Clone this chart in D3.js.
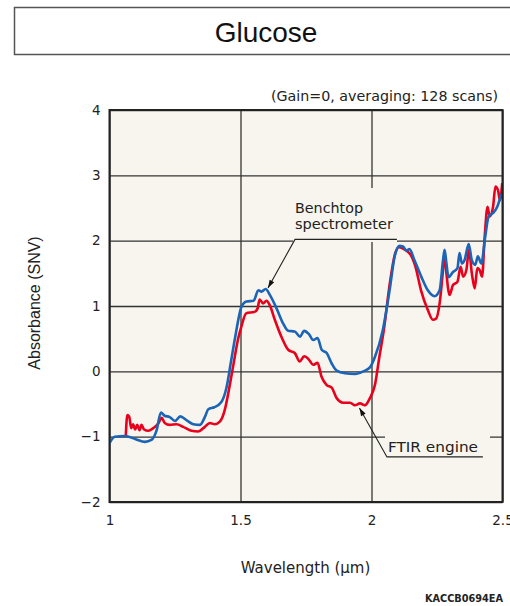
<!DOCTYPE html>
<html>
<head>
<meta charset="utf-8">
<script src="https://cdn.jsdelivr.net/npm/d3@7"></script>
<style>
  body { margin: 0; background: #fff; }
  svg { display: block; }
</style>
</head>
<body>
<div id="chart"></div>
<script>
// Benchtop spectrometer (blue)
var benchWl = [1.0, 1.02, 1.06, 1.10, 1.135, 1.16, 1.18, 1.196, 1.21, 1.23,
  1.25, 1.27, 1.295, 1.32, 1.345, 1.365, 1.377, 1.40, 1.427, 1.447,
  1.463, 1.48, 1.504, 1.523, 1.55, 1.568, 1.58, 1.596, 1.612, 1.638,
  1.663, 1.682, 1.707, 1.727, 1.743, 1.761, 1.778, 1.794, 1.81, 1.829,
  1.848, 1.867, 1.899, 1.937, 1.969, 1.994, 2.013, 2.043, 2.069, 2.088,
  2.107, 2.12, 2.133, 2.145, 2.164, 2.19, 2.215, 2.241, 2.26, 2.273,
  2.279, 2.286, 2.294, 2.311, 2.328, 2.336, 2.345, 2.355, 2.371, 2.383,
  2.396, 2.406, 2.419, 2.434, 2.447, 2.463, 2.48, 2.496];
var benchAbs = [-1.10, -1.0, -0.99, -1.04, -1.08, -1.05, -0.90, -0.63, -0.68, -0.70,
  -0.76, -0.69, -0.75, -0.81, -0.82, -0.69, -0.58, -0.55, -0.47, -0.24,
  0.13, 0.53, 0.99, 1.07, 1.08, 1.24, 1.22, 1.26, 1.17, 0.96,
  0.73, 0.62, 0.61, 0.53, 0.62, 0.57, 0.48, 0.51, 0.33, 0.28,
  0.12, 0.01, -0.03, -0.04, 0.0, 0.06, 0.22, 0.63, 1.24, 1.75,
  1.92, 1.91, 1.85, 1.87, 1.70, 1.45, 1.24, 1.15, 1.24, 1.70,
  1.86, 1.65, 1.44, 1.52, 1.58, 1.81, 1.65, 1.70, 1.95, 1.70,
  1.63, 1.76, 1.65, 2.06, 2.37, 2.42, 2.52, 2.72];

// FTIR engine (red)
var ftirWl = [1.062, 1.068, 1.075, 1.083, 1.09, 1.098, 1.106, 1.115, 1.122, 1.132,
  1.148, 1.167, 1.186, 1.199, 1.211, 1.23, 1.256, 1.281, 1.313, 1.338,
  1.364, 1.383, 1.402, 1.421, 1.44, 1.455, 1.472, 1.491, 1.503, 1.522,
  1.554, 1.565, 1.573, 1.586, 1.599, 1.612, 1.631, 1.656, 1.682, 1.707,
  1.726, 1.743, 1.761, 1.777, 1.794, 1.809, 1.829, 1.848, 1.867, 1.892,
  1.918, 1.937, 1.956, 1.975, 1.994, 2.013, 2.03, 2.047, 2.07, 2.09,
  2.105, 2.12, 2.135, 2.15, 2.168, 2.189, 2.215, 2.234, 2.247, 2.26,
  2.273, 2.279, 2.286, 2.298, 2.311, 2.328, 2.34, 2.35, 2.362, 2.372,
  2.383, 2.394, 2.404, 2.413, 2.422, 2.432, 2.443, 2.451, 2.464, 2.473,
  2.483, 2.49, 2.499];
var ftirAbs = [-1.0, -0.67, -0.69, -0.87, -0.81, -0.89, -0.82, -0.90, -0.82, -0.89,
  -0.91, -0.87, -0.80, -0.71, -0.79, -0.82, -0.81, -0.85, -0.91, -0.92,
  -0.85, -0.79, -0.81, -0.77, -0.59, -0.30, 0.08, 0.50, 0.68, 0.89,
  0.91, 0.96, 1.10, 1.04, 1.08, 1.01, 0.79, 0.53, 0.33, 0.28,
  0.15, 0.23, 0.18, 0.10, 0.13, -0.08, -0.21, -0.25, -0.41, -0.48,
  -0.48, -0.52, -0.49, -0.52, -0.41, -0.21, 0.22, 0.63, 1.35, 1.80,
  1.90, 1.88, 1.84, 1.78, 1.60, 1.24, 0.94, 0.79, 0.81, 1.04,
  1.55, 1.81, 1.50, 1.17, 1.32, 1.37, 1.60, 1.45, 1.55, 1.86,
  1.50, 1.27, 1.58, 1.55, 1.45, 2.06, 2.52, 2.37, 2.52, 2.83,
  2.77, 2.62, 2.88];

// Ticks
var xTicks = [1, 1.5, 2, 2.5];
var xTickLabels = ["1", "1.5", "2", "2.5"];
var yTicks = [-2, -1, 0, 1, 2, 3, 4];

var width = 510,
    height = 606;
var plotLeft = 109.5, plotRight = 502.5, plotTop = 110, plotBottom = 502;

var svg = d3.select("#chart")
  .append("svg")
  .attr("width", width)
  .attr("height", height);

// Title box
svg.append("rect")
  .attr("x", 14.5).attr("y", 7.5)
  .attr("width", 520).attr("height", 47)
  .attr("fill", "#fff")
  .attr("stroke", "#555")
  .attr("stroke-width", 1.5);
svg.append("text")
  .attr("x", 266).attr("y", 41.5)
  .attr("text-anchor", "middle")
  .style("font-family", "'Liberation Sans', Arial, sans-serif")
  .style("font-size", "28px")
  .attr("fill", "#111")
  .text("Glucose");

// Scales
var x = d3.scaleLinear().domain([1, 2.5]).range([plotLeft, plotRight]);
var y = d3.scaleLinear().domain([-2, 4]).range([plotBottom, plotTop]);

// Plot background
svg.append("rect")
  .attr("x", plotLeft).attr("y", plotTop)
  .attr("width", plotRight - plotLeft).attr("height", plotBottom - plotTop)
  .attr("fill", "#f7f5ee");

// Axes with grid
var xAxis = svg.append("g")
  .attr("transform", "translate(0," + plotBottom + ")")
  .call(d3.axisBottom(x).tickValues(xTicks)
    .tickFormat(function(d, i) { return xTickLabels[i]; })
    .tickSize(-(plotBottom - plotTop)).tickSizeOuter(0).tickPadding(13));
var yAxis = svg.append("g")
  .attr("transform", "translate(" + plotLeft + ",0)")
  .call(d3.axisLeft(y).tickValues(yTicks)
    .tickFormat(d3.format("d"))
    .tickSize(-(plotRight - plotLeft)).tickSizeOuter(0).tickPadding(9));
[xAxis, yAxis].forEach(function(a) {
  a.select(".domain").remove();
  a.selectAll("line").attr("stroke", "#333").attr("stroke-width", 1.3);
  a.selectAll("text")
    .style("font-family", "'DejaVu Sans', Verdana, sans-serif")
    .style("font-size", "13.5px")
    .attr("fill", "#222");
});

// label backgrounds hide gridlines
svg.append("rect")
  .attr("x", 293).attr("y", 188).attr("width", 104).attr("height", 54)
  .attr("fill", "#f7f5ee");
svg.append("rect")
  .attr("x", 385).attr("y", 430).attr("width", 105).attr("height", 29)
  .attr("fill", "#f7f5ee");

// Curves
svg.append("clipPath").attr("id", "clip")
  .append("rect")
  .attr("x", plotLeft).attr("y", plotTop)
  .attr("width", plotRight - plotLeft).attr("height", plotBottom - plotTop);

var line = d3.line()
  .x(function(d) { return x(d[0]); })
  .y(function(d) { return y(d[1]); })
  .curve(d3.curveMonotoneX);

var plot = svg.append("g").attr("clip-path", "url(#clip)");
plot.append("path")
  .datum(d3.zip(ftirWl, ftirAbs))
  .attr("d", line)
  .attr("fill", "none")
  .attr("stroke", "#e8001c")
  .attr("stroke-width", 2.6)
  .attr("stroke-linejoin", "round");
plot.append("path")
  .datum(d3.zip(benchWl, benchAbs))
  .attr("d", line)
  .attr("fill", "none")
  .attr("stroke", "#1b64b6")
  .attr("stroke-width", 2.6)
  .attr("stroke-linejoin", "round");

// Annotations
function annotate(tip, elbow, endX, lines, textX, textY, lineH, textLen) {
  var tx = x(tip[0]), ty = y(tip[1]);
  var ex = x(elbow[0]), ey = y(elbow[1]);
  svg.append("path")
    .attr("d", "M" + x(endX) + "," + ey + "L" + ex + "," + ey + "L" + tx + "," + ty)
    .attr("fill", "none")
    .attr("stroke", "#222")
    .attr("stroke-width", 1.1);
  var ang = Math.atan2(ey - ty, ex - tx);
  var L = 8, W = 2.6;
  var bx = tx + L * Math.cos(ang), by = ty + L * Math.sin(ang);
  svg.append("path")
    .attr("d", "M" + tx + "," + ty +
      "L" + (bx - W * Math.sin(ang)) + "," + (by + W * Math.cos(ang)) +
      "L" + (bx + W * Math.sin(ang)) + "," + (by - W * Math.cos(ang)) + "Z")
    .attr("fill", "#111");
  lines.forEach(function(t, i) {
    var el = svg.append("text")
      .attr("x", textX).attr("y", textY + i * lineH)
      .style("font-family", "'DejaVu Sans', Verdana, sans-serif")
      .style("font-size", "14px")
      .attr("fill", "#222")
      .text(t);
    if (textLen) el.attr("textLength", textLen[i]).attr("lengthAdjust", "spacingAndGlyphs");
  });
}
annotate([1.605, 1.275], [1.708, 2.02], 2.097, ["Benchtop", "spectrometer"], 295, 213, 16, [68, 98]);
annotate([1.954, -0.56], [2.059, -1.31], 2.425, ["FTIR engine"], 388, 451.5, 0, [90]);

// Frame
svg.append("rect")
  .attr("x", plotLeft).attr("y", plotTop)
  .attr("width", plotRight - plotLeft).attr("height", plotBottom - plotTop)
  .attr("fill", "none")
  .attr("stroke", "#222")
  .attr("stroke-width", 2);

// Note
svg.append("text")
  .attr("x", 498).attr("y", 100.5)
  .attr("text-anchor", "end")
  .attr("textLength", 227).attr("lengthAdjust", "spacingAndGlyphs")
  .style("font-family", "'DejaVu Sans', Verdana, sans-serif")
  .style("font-size", "13.5px")
  .attr("fill", "#222")
  .text("(Gain=0, averaging: 128 scans)");

// Axis titles
svg.append("text")
  .attr("transform", "translate(40,303) rotate(-90)")
  .attr("text-anchor", "middle")
  .style("font-family", "'Liberation Sans', Arial, sans-serif")
  .style("font-size", "16px")
  .attr("fill", "#222")
  .text("Absorbance (SNV)");
svg.append("text")
  .attr("x", 305.5).attr("y", 573)
  .attr("text-anchor", "middle")
  .style("font-family", "'DejaVu Sans', Verdana, sans-serif")
  .style("font-size", "15px")
  .attr("fill", "#222")
  .text("Wavelength (μm)");

svg.append("text")
  .attr("x", 503).attr("y", 601.5)
  .attr("text-anchor", "end")
  .attr("textLength", 78).attr("lengthAdjust", "spacingAndGlyphs")
  .style("font-family", "'DejaVu Sans', Verdana, sans-serif")
  .style("font-size", "11px")
  .style("font-weight", "bold")
  .attr("fill", "#222")
  .text("KACCB0694EA");
</script>
</body>
</html>
